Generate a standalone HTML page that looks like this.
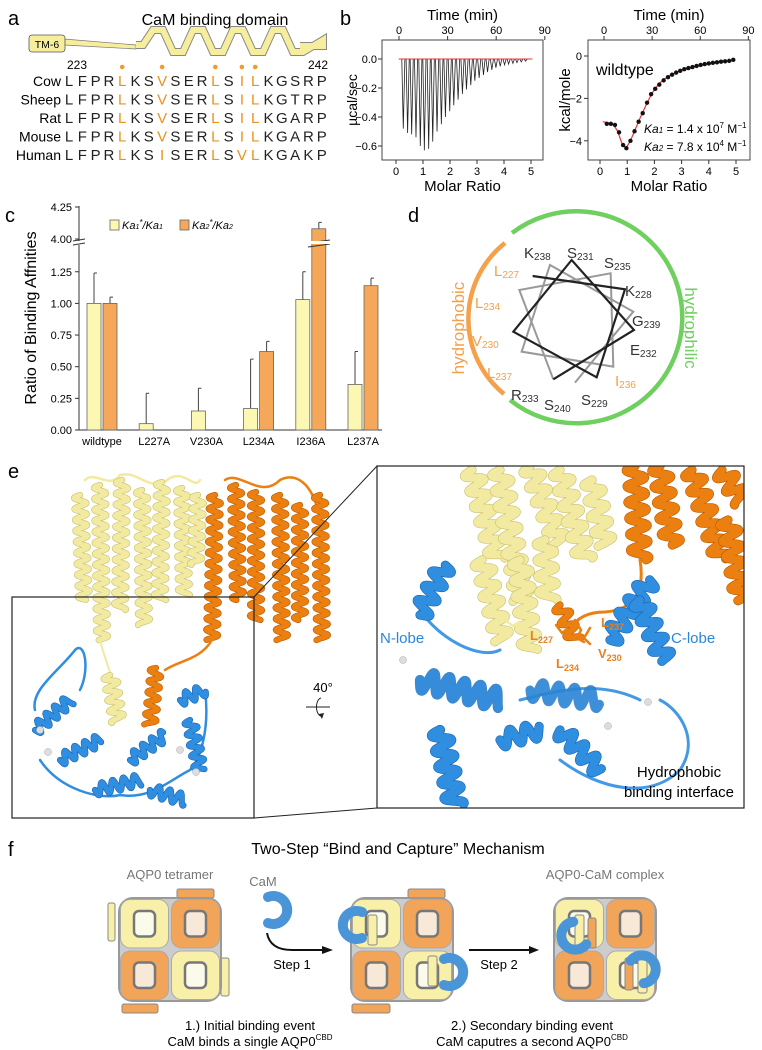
<!DOCTYPE html>
<html><head><meta charset="utf-8">
<style>
html,body{margin:0;padding:0;background:#fff;}
svg{display:block;font-family:"Liberation Sans",Arial,sans-serif;}
</style></head>
<body>
<svg id="fig" width="762" height="1050" viewBox="0 0 762 1050" xmlns="http://www.w3.org/2000/svg">
<defs>
<clipPath id="clipR"><rect x="377" y="466" width="367" height="342"/></clipPath>
</defs>
<!-- Panel a -->
<g id="pa">
<text x="8" y="25" font-size="20">a</text>
<text x="215" y="25" font-size="16" text-anchor="middle">CaM binding domain</text>
<path d="M64,39 L136,45 L136,49 L64,45 Z" fill="#f6ee9c" stroke="#777" stroke-width="0.7"/>
<rect x="29" y="35" width="36" height="17" rx="3" fill="#f6ee9c" stroke="#555" stroke-width="0.8"/>
<text x="47" y="48" font-size="10.5" text-anchor="middle">TM-6</text>
<g id="helixA"></g>
<text x="77" y="69" font-size="12" text-anchor="middle">223</text>
<text x="318" y="69" font-size="12" text-anchor="middle">242</text>
<g id="seqA"></g>
</g>
<!-- Panel b -->
<g id="pb">
<text x="340" y="25" font-size="20">b</text>
</g>
<!-- Panel c -->
<g id="pc">
<text x="5" y="222" font-size="20">c</text>
</g>
<!-- Panel d -->
<g id="pd">
<text x="408" y="222" font-size="20">d</text>
<path d="M512,233 A106,106 0 1 1 510,400" fill="none" stroke="#6fcf5f" stroke-width="4.5"/>
<path d="M505,243 A97,97 0 0 0 504,394" fill="none" stroke="#f5a04a" stroke-width="4.5"/>
<text transform="translate(464,328) rotate(-90)" font-size="17" fill="#f5a04a" text-anchor="middle">hydrophobic</text>
<text transform="translate(685,328) rotate(90)" font-size="17" fill="#6fcf5f" text-anchor="middle">hydrophilic</text>
<g transform="translate(380,190) scale(0.3333)" fill="none" stroke-linejoin="miter">
<path d="M520,568 L418,300 L692,250 L700,530 L425,485 L510,225 L760,365 L585,578" stroke="#999" stroke-width="6"/>
<path d="M458,258 L735,298 L650,562 L400,425 L575,210 L762,420 L520,568" stroke="#222" stroke-width="6.5"/>
</g>
<g id="wheelLabels" font-size="15"></g>
</g>
<!-- Panel e -->
<g id="pe">
<text x="8" y="478" font-size="20">e</text>
<g id="prot"></g>
<g id="protR" clip-path="url(#clipR)"></g>
<rect x="12" y="597" width="242" height="221" fill="none" stroke="#222" stroke-width="1.2"/>
<rect x="377" y="466" width="367" height="342" fill="none" stroke="#222" stroke-width="1.2"/>
<line x1="254" y1="597" x2="377" y2="466" stroke="#222" stroke-width="1"/>
<line x1="254" y1="818" x2="377" y2="808" stroke="#222" stroke-width="1"/>
<text x="323" y="692" font-size="13" text-anchor="middle">40°</text>
<line x1="306" y1="707" x2="330" y2="707" stroke="#222" stroke-width="1"/>
<path d="M321,698 A5,9 0 1 0 322,716" fill="none" stroke="#222" stroke-width="1"/>
<path d="M319,714 L322,719 L324,713 Z" fill="#222"/>
<text x="380" y="643" font-size="15" fill="#2a86db">N-lobe</text>
<text x="671" y="643" font-size="15" fill="#2a86db">C-lobe</text>
<text x="679" y="777" font-size="15" text-anchor="middle">Hydrophobic</text>
<text x="679" y="797" font-size="15" text-anchor="middle">binding interface</text>
<g font-size="13" font-weight="bold" fill="#e8821e">
<text x="530" y="640">L<tspan font-size="9" dy="3">227</tspan></text>
<text x="601" y="627">L<tspan font-size="9" dy="3">237</tspan></text>
<text x="598" y="658">V<tspan font-size="9" dy="3">230</tspan></text>
<text x="556" y="668">L<tspan font-size="9" dy="3">234</tspan></text>
</g>
</g>
<!-- Panel f -->
<g id="pf">
<text x="8" y="856" font-size="20">f</text>
<text x="398" y="854" font-size="16" text-anchor="middle">Two-Step “Bind and Capture” Mechanism</text>
<text x="170" y="879" font-size="13" fill="#777" text-anchor="middle">AQP0 tetramer</text>
<text x="263" y="886" font-size="13" fill="#777" text-anchor="middle">CaM</text>
<text x="605" y="879" font-size="13" fill="#777" text-anchor="middle">AQP0-CaM complex</text>
<g id="tets"></g>
<path d="M267,933 Q270,950 292,950 L325,950" fill="none" stroke="#111" stroke-width="2"/>
<path d="M322,946 L333,950 L322,954 Z" fill="#111"/>
<text x="292" y="969" font-size="13" text-anchor="middle">Step 1</text>
<line x1="469" y1="950" x2="532" y2="950" stroke="#111" stroke-width="2"/>
<path d="M529,946 L539,950 L529,954 Z" fill="#111"/>
<text x="499" y="969" font-size="13" text-anchor="middle">Step 2</text>
<text x="250" y="1030" font-size="13" text-anchor="middle">1.) Initial binding event</text>
<text x="250" y="1046" font-size="13" text-anchor="middle">CaM binds a single AQP0<tspan font-size="8" dy="-6">CBD</tspan></text>
<text x="532" y="1030" font-size="13" text-anchor="middle">2.) Secondary binding event</text>
<text x="532" y="1046" font-size="13" text-anchor="middle">CaM caputres a second AQP0<tspan font-size="8" dy="-6">CBD</tspan></text>
</g>
</svg>
<script>
var NS="http://www.w3.org/2000/svg";
function E(tag,attrs,parent){var e=document.createElementNS(NS,tag);for(var k in attrs)e.setAttribute(k,attrs[k]);(parent||document.getElementById('fig')).appendChild(e);return e;}

/* ===== Panel a data ===== */
var species=["Cow","Sheep","Rat","Mouse","Human"];
var seqs=["LFPRLKSVSERLSILKGSRP","LFPRLKSVSERLSILKGTRP","LFPRLKSVSERLSILKGARP","LFPRLKSVSERLSILKGARP","LFPRLKSISERLSVLKGAKP"];
var hydroIdx=[4,7,11,13,14];
(function(){
 var g=document.getElementById('seqA');
 var h=document.getElementById('helixA');
 var hp=E('path',{d:"M136,45 L143,45 "+[0,1,2,3].map(function(i){var x=143+i*40;return "L"+(x+10)+",30 L"+(x+20)+",30 L"+(x+30)+",52 L"+(x+40)+",52";}).join(" ")+" L323,40 L323,46 L300,46",fill:"none",stroke:"#888","stroke-width":"8","stroke-linejoin":"miter"},h);
 
 var hp2=E('path',{d:hp.getAttribute('d'),fill:"none",stroke:"#f6ee9c","stroke-width":"6","stroke-linejoin":"miter"},h);
 
 hydroIdx.forEach(function(i){
  var c=E('circle',{cx:65+i*13.3+4,cy:67,r:2.3,fill:"#f29a2e"},g);
  
 });
 species.forEach(function(s,r){
  var y=86+r*18.5;
  var t=E('text',{x:61,y:y,"font-size":"14","text-anchor":"end"},g);t.textContent=s;
  
  for(var i=0;i<seqs[r].length;i++){
   var L=E('text',{x:65+i*13.3+4,y:y,"font-size":"15","text-anchor":"middle",fill:hydroIdx.indexOf(i)>=0?"#e8921e":"#222"},g);
   L.textContent=seqs[r][i];
   
  }
 });
})();

/* ===== Panel b data ===== */
var molar=[0.27,0.43,0.58,0.74,0.9,1.05,1.21,1.36,1.52,1.68,1.83,1.99,2.14,2.3,2.46,2.61,2.77,2.92,3.08,3.24,3.39,3.55,3.7,3.86,4.02,4.17,4.33,4.48,4.64,4.8];
var peakMin=[-0.48,-0.51,-0.52,-0.54,-0.60,-0.63,-0.62,-0.57,-0.50,-0.45,-0.40,-0.36,-0.32,-0.28,-0.24,-0.21,-0.18,-0.15,-0.13,-0.11,-0.09,-0.075,-0.06,-0.05,-0.04,-0.035,-0.03,-0.025,-0.02,-0.015];
var ptX=[0.25,0.4,0.55,0.7,0.85,0.97,1.12,1.27,1.42,1.57,1.73,1.88,2.03,2.18,2.34,2.5,2.65,2.8,2.95,3.1,3.25,3.4,3.55,3.7,3.85,4.0,4.15,4.3,4.45,4.6,4.75,4.9];
var ptY=[-3.2,-3.2,-3.25,-3.6,-4.2,-4.35,-4.0,-3.55,-3.1,-2.7,-2.2,-1.8,-1.55,-1.35,-1.15,-1.0,-0.88,-0.78,-0.7,-0.62,-0.57,-0.52,-0.47,-0.42,-0.38,-0.35,-0.32,-0.3,-0.27,-0.25,-0.23,-0.18];
var fitX=[0.1,0.3,0.5,0.65,0.8,0.95,1.1,1.3,1.5,1.7,1.9,2.1,2.3,2.6,3.0,3.5,4.0,4.5,4.95];
var fitY=[-3.1,-3.15,-3.25,-3.55,-4.1,-4.35,-4.05,-3.45,-2.85,-2.3,-1.78,-1.42,-1.15,-0.9,-0.66,-0.5,-0.37,-0.28,-0.2];
var molarTicks=[0,1,2,3,4,5];
var timeTicks=[0,30,60,90];
var ucalTicks=[0.0,-0.2,-0.4,-0.6];
var kcalTicks=[0,-2,-4];
(function(){
 var g=document.getElementById('pb');
 function xL(m){return 396+27*m;} function yL(v){return 59-145*v;}
 function xR(m){return 600+27.2*m;} function yR(v){return 56-21.2*v;}
 function tL(t){return 399+t*1.62;} function tR(t){return 604+t*1.604;}
 [[382,543,'left'],[588,750,'right']].forEach(function(b){
  var r=E('rect',{x:b[0],y:40,width:b[1]-b[0],height:120,fill:"none",stroke:"#333","stroke-width":"0.9"},g);
  
  var tt=E('text',{x:(b[0]+b[1])/2,y:20,"font-size":"15","text-anchor":"middle"},g);tt.textContent="Time (min)";
  
  var mt=E('text',{x:(b[0]+b[1])/2,y:191,"font-size":"15","text-anchor":"middle"},g);mt.textContent="Molar Ratio";
  
 });
 molarTicks.forEach(function(m){
  [[xL(m)],[xR(m)]].forEach(function(p){
   var l=E('line',{x1:p[0],x2:p[0],y1:160,y2:164,stroke:"#333"},g);
   var t=E('text',{x:p[0],y:175,"font-size":"11","text-anchor":"middle"},g);t.textContent=m;
  });
 });
 timeTicks.forEach(function(m){
  [tL(m),tR(m)].forEach(function(x){
   var l=E('line',{x1:x,x2:x,y1:40,y2:36,stroke:"#333"},g);
   var t=E('text',{x:x,y:34,"font-size":"11","text-anchor":"middle"},g);t.textContent=m;
  });
 });
 ucalTicks.forEach(function(v){
  var l=E('line',{x1:382,x2:378,y1:yL(v),y2:yL(v),stroke:"#333"},g);
  var t=E('text',{x:377,y:yL(v)+4,"font-size":"11","text-anchor":"end"},g);t.textContent=(v===0?"0.0":v.toFixed(1).replace('-','\u2212'));
 });
 var yl=E('text',{transform:"translate(357,100) rotate(-90)","font-size":"14","text-anchor":"middle"},g);yl.textContent="µcal/sec";
 
 kcalTicks.forEach(function(v){
  var l=E('line',{x1:588,x2:584,y1:yR(v),y2:yR(v),stroke:"#333"},g);
  var t=E('text',{x:582,y:yR(v)+4,"font-size":"11","text-anchor":"end"},g);t.textContent=(v===0?"0":String(v).replace('-','\u2212'));
 });
 var yl2=E('text',{transform:"translate(570,100) rotate(-90)","font-size":"15","text-anchor":"middle"},g);yl2.textContent="kcal/mole";
 
 var d="M"+xL(0.1)+","+yL(0);
 molar.forEach(function(m,i){d+=" L"+(xL(m)-1.5)+","+yL(0)+" L"+xL(m)+","+yL(peakMin[i])+" L"+(xL(m)+1.6)+","+yL(0);});
 d+=" L"+xL(5.05)+","+yL(0);
 var raw=E('path',{d:d,fill:"none",stroke:"#222","stroke-width":"0.8"},g);
 
 var bl=E('line',{x1:xL(0.1),x2:xL(5.05),y1:yL(0),y2:yL(0),stroke:"#e33","stroke-width":"1"},g);
 
 var fd=fitX.map(function(m,i){return (i?"L":"M")+xR(m)+","+yR(fitY[i]);}).join(" ");
 var fit=E('path',{d:fd,fill:"none",stroke:"#e33","stroke-width":"1.2"},g);
 
 ptX.forEach(function(m,i){
  var c=E('circle',{cx:xR(m),cy:yR(ptY[i]),r:2.2,fill:"#111"},g);
  
 });
 var w=E('text',{x:596,y:75,"font-size":"16"},g);w.textContent="wildtype";
 
 var k1=E('text',{x:644,y:133,"font-size":"12"},g);
 k1.innerHTML='<tspan font-style="italic">Ka<tspan font-size="8">1</tspan></tspan> = 1.4 x 10<tspan font-size="8" dy="-5">7</tspan><tspan dy="5"> M</tspan><tspan font-size="8" dy="-5">−1</tspan>';
 
 var k2=E('text',{x:644,y:151,"font-size":"12"},g);
 k2.innerHTML='<tspan font-style="italic">Ka<tspan font-size="8">2</tspan></tspan> = 7.8 x 10<tspan font-size="8" dy="-5">4</tspan><tspan dy="5"> M</tspan><tspan font-size="8" dy="-5">−1</tspan>';
 
})();

/* ===== Panel c data ===== */
var mutants=["wildtype","L227A","V230A","L234A","I236A","L237A"];
var ka1Ratio=[1.00,0.05,0.15,0.17,1.03,0.36];
var ka1Err=[1.24,0.29,0.33,0.56,1.25,0.62];
var ka2Ratio=[1.00,0,0,0.62,4.08,1.14];
var ka2Err=[1.05,0,0,0.70,4.13,1.20];
var lowTicks=["0.00","0.25","0.50","0.75","1.00","1.25"];
var highTicks=["4.00","4.25"];
(function(){
 var g=document.getElementById('pc');
 function y(v){return v<=2?430-v*126.6:239-(v-4)*128;}
 function cx(i){return 102+i*52.2;}
 var ax=E('path',{d:"M79,206 L79,241 M79,245 L79,430 L382,430",fill:"none",stroke:"#333","stroke-width":"1"},g);
 
 lowTicks.concat(highTicks).forEach(function(s){
  var v=parseFloat(s),yy=y(v);
  var l=E('line',{x1:75,x2:79,y1:yy,y2:yy,stroke:"#333"},g);
  var t=E('text',{x:72,y:yy+4,"font-size":"11","text-anchor":"end"},g);t.textContent=s;
 });
 var yt=E('text',{transform:"translate(36,318) rotate(-90)","font-size":"16","text-anchor":"middle"},g);yt.textContent="Ratio of Binding Affnities";
 
 mutants.forEach(function(m,i){
  var t=E('text',{x:cx(i),y:445,"font-size":"11","text-anchor":"middle"},g);t.textContent=m;
  
  [[ka1Ratio,ka1Err,"#fcf8b4",-15,'ka1'],[ka2Ratio,ka2Err,"#f6a85a",1,'ka2']].forEach(function(s){
   var v=s[0][i],e=s[1][i],x=cx(i)+s[3];
   if(v>0){
    var er=E('path',{d:"M"+(x+7)+","+y(v)+" L"+(x+7)+","+y(e)+" M"+(x+7)+","+y(e)+" L"+(x+10)+","+y(e),stroke:"#444","stroke-width":"1",fill:"none"},g);
    
    var b=E('rect',{x:x,y:y(v),width:14,height:430-y(v),fill:s[2],stroke:"#666","stroke-width":"0.8"},g);
    
   }
  });
 });
 var br=E('path',{d:"M73,241 L85,239 M73,245 L85,243 M308,243 L330,240 M308,247 L330,244",stroke:"#333","stroke-width":"1",fill:"none"},g);
 
 var bw=E('rect',{x:305,y:241,width:28,height:3,fill:"#fff"},g);
 
 var l1=E('rect',{x:110,y:220,width:9,height:10,fill:"#fcf8b4",stroke:"#666","stroke-width":"0.8"},g);
 var lt1=E('text',{x:122,y:229,"font-size":"11","font-style":"italic"},g);lt1.innerHTML='Ka<tspan font-size="7">1</tspan><tspan font-size="8" dy="-4">*</tspan><tspan dy="4">/Ka</tspan><tspan font-size="7">1</tspan>';
 
 var l2=E('rect',{x:180,y:220,width:9,height:10,fill:"#f6a85a",stroke:"#666","stroke-width":"0.8"},g);
 var lt2=E('text',{x:192,y:229,"font-size":"11","font-style":"italic"},g);lt2.innerHTML='Ka<tspan font-size="7">2</tspan><tspan font-size="8" dy="-4">*</tspan><tspan dy="4">/Ka</tspan><tspan font-size="7">2</tspan>';
 
})();

/* ===== Panel d labels ===== */
var wheelRes=[["K","238",532,255,0],["S","231",575,255,0],["S","235",612,265,0],["K","228",633,293,0],["G","239",640,323,0],["E","232",638,352,0],["I","236",623,383,1],["S","229",589,402,0],["S","240",552,407,0],["R","233",519,397,0],["L","237",495,375,1],["V","230",480,343,1],["L","234",483,305,1],["L","227",502,273,1]];
(function(){
 var g=document.getElementById('wheelLabels');
 wheelRes.forEach(function(r){
  var t=E('text',{x:r[2]-8,y:r[3]+3,fill:r[4]?"#f5a04a":"#333"},g);
  t.innerHTML=r[0]+'<tspan font-size="10" dy="2">'+r[1]+'</tspan>';
  
 });
})();

/* ===== Panel e structure illustration ===== */
(function(){
 var gL=document.getElementById('prot'), gR=document.getElementById('protR');
 var g=gL;
 function coil(x1,y1,x2,y2,col,dark,w,amp,op,per){
  per=per||10;
  var dx=x2-x1,dy=y2-y1,L=Math.sqrt(dx*dx+dy*dy),n=Math.max(12,Math.round(L/0.6));
  var px=-dy/L,py=dx/L,d="";
  for(var i=0;i<=n;i++){var t=i/n,s=Math.sin(t*L/per*2*Math.PI)*amp;d+=(i?"L":"M")+(x1+dx*t+px*s).toFixed(1)+","+(y1+dy*t+py*s).toFixed(1)+" ";}
  var a=E('path',{d:d,fill:"none",stroke:dark,"stroke-width":w+1.2,"stroke-linecap":"round","stroke-linejoin":"round",opacity:op||1},g);
  
  var b=E('path',{d:d,fill:"none",stroke:col,"stroke-width":w,"stroke-linecap":"round","stroke-linejoin":"round",opacity:op||1},g);
  
 }
 function loop(d,col,w,op){var p=E('path',{d:d,fill:"none",stroke:col,"stroke-width":w,"stroke-linecap":"round",opacity:op||1},g);}
 function ion(x,y){var c=E('circle',{cx:x,cy:y,r:3.5,fill:"#ddd",stroke:"#aaa","stroke-width":"0.5"},g);}
 var Y="#f2eaa0",YD="#c9bf6e",O="#eb7f10",OD="#b85a00",B="#2f8ee0",BD="#1a64b0";
 // left overview
 loop("M85,480 C95,470 110,490 120,475 C140,470 150,495 170,478 C185,470 195,490 200,480",Y,2.5);
 [[80,495,84,600],[100,485,102,640],[122,480,120,610],[142,490,144,625],[162,482,160,600],[182,488,184,595],[198,495,196,565]].forEach(function(c){coil(c[0],c[1],c[2],c[3],Y,YD,5,6,1,11);});
 loop("M225,480 C240,470 260,500 280,480 C300,470 315,490 320,520",O,2.5);
 [[215,495,212,640],[236,485,238,600],[256,492,256,620],[280,495,282,640],[300,505,300,620],[320,495,322,640]].forEach(function(c){coil(c[0],c[1],c[2],c[3],O,OD,5,6,1,11);});
 loop("M212,640 C200,660 180,660 165,670",O,2.5);
 loop("M100,640 C105,660 110,670 112,680",Y,2);
 coil(110,675,118,722,Y,YD,5,7,1,11);
 coil(156,668,150,725,O,OD,5,6,1,11);
 loop("M35,710 C30,690 60,670 75,650 C85,640 90,670 80,690 M40,760 C60,790 100,800 120,795 C150,800 170,780 190,770 C200,760 210,730 205,690",B,2.5);
 [[35,730,70,700],[60,760,100,740],[95,790,140,780],[130,760,165,735],[180,700,205,690],[190,720,200,770],[150,790,185,800]].forEach(function(c){coil(c[0],c[1],c[2],c[3],B,BD,5,6,1,11);});
 ion(40,730);ion(48,752);ion(180,750);ion(196,772);
 // right zoomed view
 g=gR;
 [[472,470,498,560],[500,470,522,600],[530,466,560,545],[560,470,585,560],[592,480,605,545],[482,560,502,640],[520,560,530,650],[545,540,548,600]].forEach(function(c){coil(c[0],c[1],c[2],c[3],Y,YD,8,9,1,16);});
 [[635,466,640,560],[660,466,672,545],[692,470,722,560],[722,470,742,500],[728,520,742,600]].forEach(function(c){coil(c[0],c[1],c[2],c[3],O,OD,8,9,1,16);});
 loop("M640,560 C645,590 635,610 605,612 C585,612 575,620 570,630",O,3);
 coil(560,605,575,640,O,OD,6,7,1,14);
 loop("M420,610 C440,640 480,660 500,650 M520,700 C560,690 600,680 640,700 M560,760 C600,790 650,800 680,770 C700,740 680,710 660,700",B,3,0.9);
 coil(420,615,445,565,B,BD,8,9,1,16);
 coil(420,680,500,700,B,BD,9,10,0.8,16);
 coil(440,730,455,805,B,BD,9,9,1,16);
 coil(530,690,600,700,B,BD,8,9,0.7,16);
 coil(610,640,650,580,B,BD,8,9,1,16);
 coil(640,600,665,660,B,BD,8,9,1,16);
 coil(560,730,600,770,B,BD,8,8,1,16);
 coil(500,740,540,730,B,BD,8,8,1,16);
 ion(403,660);ion(648,702);ion(608,726);
 loop("M556,625 l6,8 l5,-4 l4,8 M575,620 l6,10 l-4,8 l7,4 M590,628 l-6,10 l6,6",O,2.5);
 loop("M505,620 l8,6 l6,-4 l4,8 M500,635 l10,2",Y,2.5);
})();

/* ===== Panel f tetramers ===== */
(function(){
 var g=document.getElementById('tets');
 var YY="#f8f0a8",OO="#f2a458";
 function R(x,y,w,h,rx,fill,stroke,sw,name){var r=E('rect',{x:x,y:y,width:w,height:h,rx:rx,fill:fill,stroke:stroke,"stroke-width":sw},g);return r;}
 function tet(x,y,name){
  var w=102,h=103,hw=w/2,hh=h/2;
  R(x,y,w,h,14,"#ccc","#999",2,name+'-outline');
  [[0,0,YY,"#fbfbec"],[1,0,OO,"#f8e8d8"],[0,1,OO,"#f8e8d8"],[1,1,YY,"#fbfbec"]].forEach(function(q){
   R(x+q[0]*hw+1.5,y+q[1]*hh+1.5,hw-3,hh-3,10,q[2],"#aaa",1,name+'-subunit');
   R(x+q[0]*hw+15,y+q[1]*hh+13,hw-30,hh-26,5,q[3],"#777",2.5,name+'-pore');
  });
 }
 function cam(cx,cy,rot,name){
  var p=E('path',{d:"M-6,-13 A14,14 0 1 0 -6,13",transform:"translate("+cx+","+cy+") rotate("+rot+")",fill:"none",stroke:"#4a94d8","stroke-width":"10","stroke-linecap":"round"},g);
  
 }
 R(108,903,7,38,2,YY,"#888",1,'cbd-helix-left');
 R(177,889,37,9,2,OO,"#888",1,'cbd-helix-top');
 R(221,958,8,38,2,YY,"#888",1,'cbd-helix-right');
 R(122,1004,36,9,2,OO,"#888",1,'cbd-helix-bottom');
 tet(119,898,'tetramer-1');
 cam(262,910,180,'cam-free');
 R(408,889,37,9,2,OO,"#888",1,'cbd-helix-top-2');
 R(352,1004,38,9,2,OO,"#888",1,'cbd-helix-bottom-2');
 tet(351,898,'tetramer-2');
 R(368,915,9,30,2,YY,"#888",1,'cbd-bound-1');
 cam(368,925,0,'cam-bound-1');
 R(428,956,9,30,2,YY,"#888",1,'cbd-bound-2');
 cam(438,972,180,'cam-bound-2');
 tet(554,898,'tetramer-3');
 R(575,915,9,35,2,YY,"#888",1,'cbd-complex-1');
 R(588,918,8,30,2,OO,"#888",1,'cbd-complex-2');
 cam(585,930,-30,'cam-complex-1');
 R(625,958,8,32,2,OO,"#888",1,'cbd-complex-3');
 R(638,958,9,35,2,YY,"#888",1,'cbd-complex-4');
 cam(632,975,150,'cam-complex-2');
})();
</script>
</body></html>
